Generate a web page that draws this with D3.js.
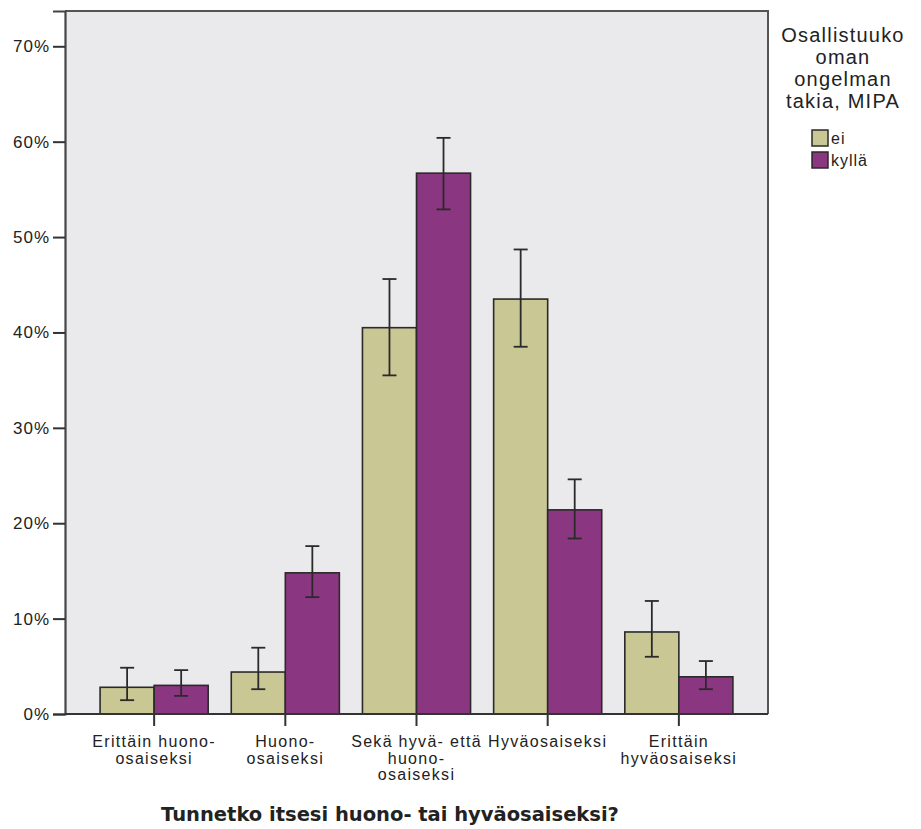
<!DOCTYPE html>
<html>
<head>
<meta charset="utf-8">
<script src="https://cdn.jsdelivr.net/npm/d3@7"></script>
<style>
  html, body { margin: 0; padding: 0; background: #ffffff; }
  svg { display: block; }
  .tick-label { font-family: "Liberation Sans", Arial, sans-serif; font-size: 16px; letter-spacing: 1.3px; fill: #222; }
</style>
</head>
<body>
<svg id="chart" width="921" height="829"></svg>
<script>
// Categories (x axis), grouped by the legend variable
const categories = [
  ["Erittäin huono-", "osaiseksi"],
  ["Huono-", "osaiseksi"],
  ["Sekä hyvä- että", "huono-", "osaiseksi"],
  ["Hyväosaiseksi"],
  ["Erittäin", "hyväosaiseksi"]
];
const seriesNames = ["ei", "kyllä"];
const seriesColors = ["#C9C794", "#8B3680"];

// Percent values per category, for "ei" and "kyllä"
const eiValues    = [2.8, 4.4, 40.5, 43.5, 8.6];
const kyllaValues = [3.0, 14.8, 56.7, 21.4, 3.9];

// 95% confidence interval bounds (low, high)
const eiLow     = [1.45, 2.6, 35.5, 38.5, 6.0];
const eiHigh    = [4.85, 6.95, 45.6, 48.7, 11.85];
const kyllaLow  = [1.9, 12.25, 52.9, 18.4, 2.6];
const kyllaHigh = [4.6, 17.6, 60.4, 24.6, 5.55];

const yTicks = [0, 10, 20, 30, 40, 50, 60, 70];
const yMax = 73.7;

const xTitle = "Tunnetko itsesi huono- tai hyväosaiseksi?";
const legendTitle = ["Osallistuuko", "oman", "ongelman", "takia, MIPA"];

const svg = d3.select("#chart");
const plot = { left: 65, right: 768, top: 11, bottom: 714 };

const x = d3.scaleBand()
  .domain(d3.range(categories.length))
  .range([plot.left, plot.right])
  .paddingInner(0.176)
  .paddingOuter(0.2675);
const xs = d3.scaleBand().domain(seriesNames).range([0, x.bandwidth()]);
const y = d3.scaleLinear().domain([0, yMax]).range([plot.bottom, plot.top]);

// plot background
svg.append("rect")
  .attr("x", plot.left).attr("y", plot.top)
  .attr("width", plot.right - plot.left).attr("height", plot.bottom - plot.top)
  .attr("fill", "#EAEAEC");

const rows = d3.range(categories.length).map(i => [
  { s: "ei", v: eiValues[i], lo: eiLow[i], hi: eiHigh[i], c: seriesColors[0] },
  { s: "kyllä", v: kyllaValues[i], lo: kyllaLow[i], hi: kyllaHigh[i], c: seriesColors[1] }
]);

const groups = svg.append("g").selectAll("g").data(rows).join("g")
  .attr("transform", (d, i) => `translate(${x(i)},0)`);

groups.selectAll("rect").data(d => d).join("rect")
  .attr("x", d => xs(d.s))
  .attr("y", d => y(d.v))
  .attr("width", xs.bandwidth())
  .attr("height", d => y(0) - y(d.v))
  .attr("fill", d => d.c)
  .attr("stroke", "#2a2a2a")
  .attr("stroke-width", 1.6);

// error bars
const eb = groups.selectAll("g.err").data(d => d).join("g").attr("class", "err")
  .attr("stroke", "#2a2a2a").attr("stroke-width", 1.8);
const cx = d => xs(d.s) + xs.bandwidth() / 2;
eb.append("line").attr("x1", cx).attr("x2", cx).attr("y1", d => y(d.lo)).attr("y2", d => y(d.hi));
eb.append("line").attr("x1", d => cx(d) - 7).attr("x2", d => cx(d) + 7).attr("y1", d => y(d.hi)).attr("y2", d => y(d.hi));
eb.append("line").attr("x1", d => cx(d) - 7).attr("x2", d => cx(d) + 7).attr("y1", d => y(d.lo)).attr("y2", d => y(d.lo));

// frame: top and right
svg.append("path")
  .attr("d", `M${plot.left},${plot.top}H${plot.right}V${plot.bottom}`)
  .attr("fill", "none").attr("stroke", "#555").attr("stroke-width", 2);

// y axis
const yAxis = svg.append("g").attr("transform", `translate(${plot.left},0)`)
  .call(d3.axisLeft(y).tickValues(yTicks).tickFormat(d => d + "%").tickSize(12).tickPadding(3));
yAxis.select(".domain").attr("stroke", "#444").attr("stroke-width", 2.2);
yAxis.selectAll(".tick line").attr("stroke", "#333").attr("stroke-width", 2);
yAxis.selectAll(".tick text").attr("class", "tick-label").attr("font-size", null).attr("font-family", null)
  .attr("fill", "#222").style("font-size", "17px").style("letter-spacing", "1px");

// x axis
const xAxis = svg.append("g").attr("transform", `translate(0,${plot.bottom})`)
  .call(d3.axisBottom(x).tickSize(12).tickFormat(""));
xAxis.select(".domain").attr("d", `M${plot.left},0H${plot.right}`).attr("stroke", "#333").attr("stroke-width", 2);
xAxis.selectAll(".tick line").attr("stroke", "#333").attr("stroke-width", 2);
xAxis.selectAll(".tick").each(function(i) {
  const t = d3.select(this).select("text")
    .attr("class", "tick-label").attr("font-size", null).attr("font-family", null)
    .attr("fill", "#222").attr("y", 33).attr("dy", null);
  categories[i].forEach((line, k) => {
    t.append("tspan").attr("x", 0).attr("dy", k === 0 ? 0 : 16.5).text(line);
  });
});

// axis title
svg.append("text")
  .attr("x", 390).attr("y", 821)
  .attr("text-anchor", "middle")
  .attr("font-family", "DejaVu Sans, Verdana, sans-serif")
  .attr("font-weight", "bold")
  .attr("font-size", 19.5)
  .attr("fill", "#222")
  .text(xTitle);

// legend
const lg = svg.append("g");
lg.selectAll("text.lt").data(legendTitle).join("text").attr("class", "lt")
  .attr("x", 843).attr("y", (d, i) => 42 + i * 22)
  .attr("text-anchor", "middle")
  .attr("font-family", "Liberation Sans, Arial, sans-serif")
  .attr("font-size", 20).attr("letter-spacing", 1.2)
  .attr("fill", "#222")
  .text(d => d);
const items = lg.selectAll("g.item").data(seriesNames).join("g").attr("class", "item")
  .attr("transform", (d, i) => `translate(812,${130 + i * 22})`);
items.append("rect").attr("width", 16).attr("height", 16)
  .attr("fill", (d, i) => seriesColors[i]).attr("stroke", "#2a2a2a").attr("stroke-width", 1.5);
items.append("text").attr("x", 19).attr("y", 14)
  .attr("font-family", "Liberation Sans, Arial, sans-serif")
  .attr("font-size", 16).attr("letter-spacing", 1)
  .attr("fill", "#222")
  .text(d => d);
</script>
</body>
</html>
